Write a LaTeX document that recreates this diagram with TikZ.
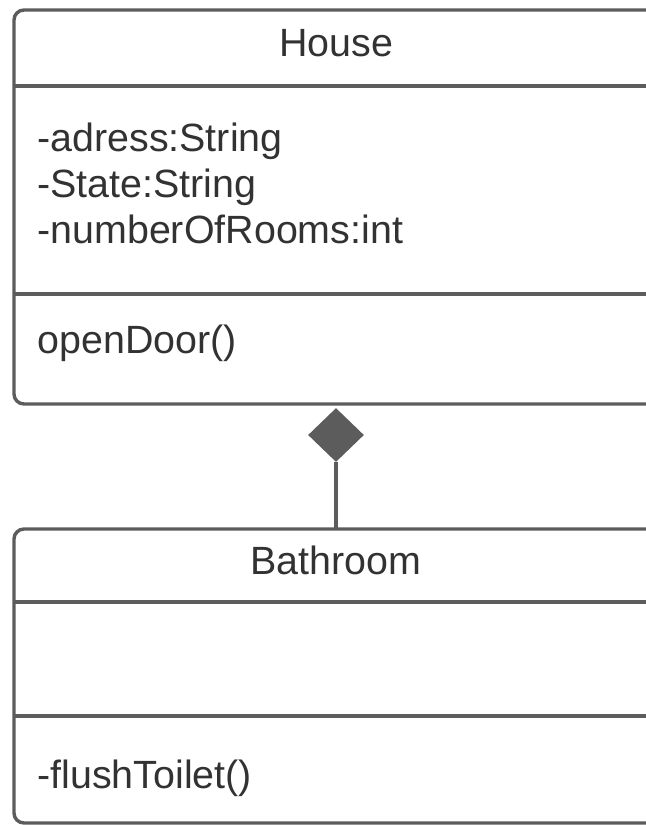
\documentclass[tikz,border=0pt]{standalone}
\usepackage{fontspec}
\setmainfont{Liberation Sans}
\usepackage{xcolor}
\usepackage{tikz}
\usetikzlibrary{shapes.geometric}

\definecolor{umlline}{RGB}{92,92,92}
\definecolor{umltext}{RGB}{50,50,50}

\tikzset{
    classbox/.style={draw=umlline, line width=1.7pt, rounded corners=5pt},
    divider/.style={draw=umlline, line width=1.7pt},
    member/.style={anchor=base west, inner sep=0pt, text=umltext,
        font=\fontsize{19.7}{23}\selectfont},
    classname/.style={member, anchor=base},
    composition/.style={diamond, fill=umlline, inner sep=0pt,
        minimum width=28pt, minimum height=27pt},
}

\begin{document}
\begin{tikzpicture}[x=0.5pt, y=-0.5pt]
        \useasboundingbox (0,0) rectangle (646,825);
        \clip (0,0) rectangle (646,825);

        % House
        \draw[classbox] (14,10) rectangle (720,404);
        \draw[divider] (14,86) -- (720,86);
        \draw[divider] (14,294) -- (720,294);
        \node[classname] (house) at (336,56.5) {House};
        \node[member] (adress) at (37,151.5) {-adress:String};
        \node[member] (state) at (37,197) {-State:String};
        \node[member] (rooms) at (37,243) {-numberOfRooms:int};
        \node[member] (opendoor) at (37,353) {openDoor()};

        % Bathroom
        \draw[classbox] (14,529) rectangle (720,823);
        \draw[divider] (14,602) -- (720,602);
        \draw[divider] (14,716) -- (720,716);
        \node[classname] (bathroom) at (336,574) {Bathroom};
        \node[member] (flush) at (37,788) {-flushToilet()};

        % composition
        \node[composition] (comp) at (336,435) {};
        \coordinate (bathtop) at (336,529);
        \draw[divider] (comp.south) -- (bathtop);
\end{tikzpicture}
\end{document}
